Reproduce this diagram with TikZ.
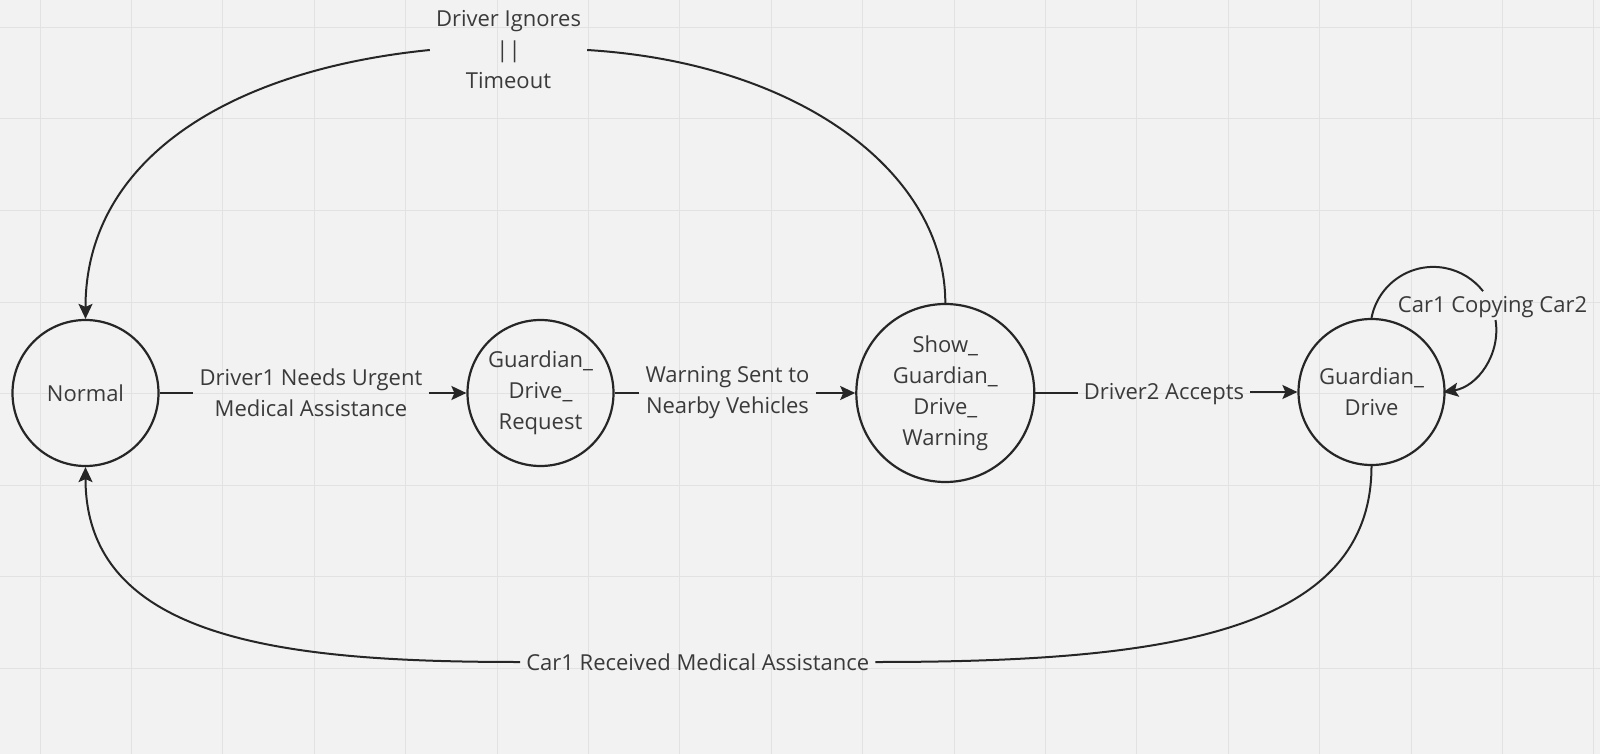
\documentclass[tikz,border=0pt]{standalone}
\usepackage{fontspec}
\setmainfont{Open Sans}
\usetikzlibrary{arrows.meta,calc}
\definecolor{bg}{HTML}{F2F2F2}
\definecolor{gridc}{HTML}{E2E2E2}
\definecolor{ink}{HTML}{262626}
\definecolor{txt}{HTML}{3A3A3A}
\begin{document}
\begin{tikzpicture}[x=1pt,y=-1pt,
  state/.style={circle,draw=ink,line width=2.2pt,inner sep=0pt,text=txt,
    font=\fontsize{22}{31}\selectfont,align=center},
  lbl/.style={text=txt,font=\fontsize{22}{31}\selectfont,align=center,
    inner xsep=6pt,inner ysep=2pt},
  conn/.style={draw=ink,line width=2pt},
  arr/.style={conn,-{Stealth[length=15pt,width=14pt,inset=3pt]}}]
\fill[bg] (0,0) rectangle (1600,754);
\useasboundingbox (0,0) rectangle (1600,754);
\foreach \i in {0,...,17}
  \draw[gridc,line width=1pt] ({40+91.4*\i},0) -- ({40+91.4*\i},754);
\foreach \j in {0,...,8}
  \draw[gridc,line width=1pt] (0,{27.5+91.5*\j}) -- (1600,{27.5+91.5*\j});

% states
\node[state,minimum size=146pt] (n) at (85.5,393) {Normal};
\node[state,minimum size=146pt] (r) at (540.5,393) {Guardian\_\\Drive\_\\Request};
\node[state,minimum size=178pt] (w) at (945.3,393) {Show\_\\Guardian\_\\Drive\_\\Warning};
\node[state,minimum size=146pt] (g) at (1371.5,392) {Guardian\_\\Drive};

% labels
\node[lbl] (l1) at (311,393) {Driver1 Needs Urgent\\Medical Assistance};
\node[lbl] (l2) at (727.5,393) {Warning Sent to\\Nearby Vehicles};
\node[lbl] (l3) at (1164,394) {Driver2 Accepts};
\node[lbl] (l4) at (1492.5,307) {Car1 Copying Car2};
\node[lbl] (t1) at (508.5,50) {Driver Ignores\\||\\Timeout};
\node[lbl] (b1) at (697.7,662) {Car1 Received Medical Assistance};

% straight transitions
\draw[conn] (n) -- (l1);
\draw[arr] (l1) -- (r);
\draw[conn] (r) -- (l2);
\draw[arr] (l2) -- (w);
\draw[conn] (w) -- (l3.west |- w);
\draw[arr] (l3.east |- g) -- (g);

% top curve: warning -> normal
\draw[conn] (w.north) .. controls ($(w.north)+(0,-130)$) and ($(t1.east)+(213,13)$) .. (t1.east);
\draw[arr] (t1.west) .. controls ($(t1.west)+(-200,20)$) and ($(n.north)+(0,-160)$) .. (n.north);

% bottom curve: guardian drive -> normal
\draw[conn] (g.south) .. controls ($(g.south)+(0,170)$) and ($(b1.east)+(280,0)$) .. (b1.east);
\draw[arr] (b1.west) .. controls ($(b1.west)+(-230,0)$) and ($(n.south)+(0,175)$) .. (n.south);

% self loop
\coordinate (lc) at ($(g.north)+(61.8,12)$);
\draw[conn] (g.north) arc[start angle=191,end angle=322,radius=63];
\draw[arr] ($(lc)+(351:63)$) arc[start angle=351,end angle=441,radius=63];
\end{tikzpicture}
\end{document}
